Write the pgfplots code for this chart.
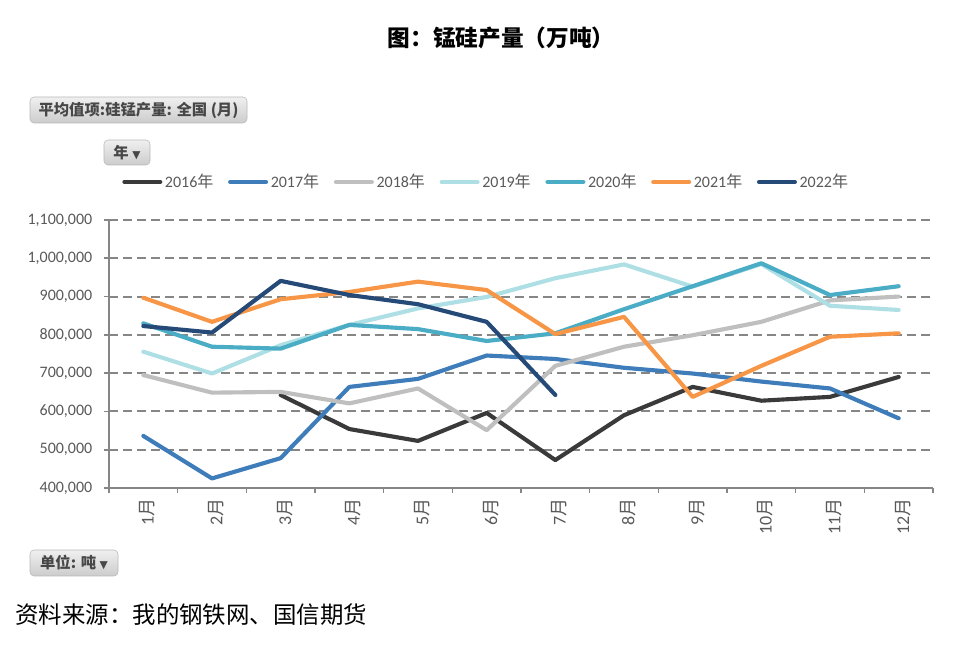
\documentclass[border=0pt]{standalone}
\usepackage{pgfplots}
\pgfplotsset{compat=1.18}
\usepackage{fontspec}
\setmainfont{Carlito}
\newfontfamily\cjk{Noto Sans CJK SC}
\newfontfamily\dejavu{DejaVu Sans}
\definecolor{c16}{HTML}{3A3A3A}
\definecolor{c17}{HTML}{3E7DB9}
\definecolor{c18}{HTML}{BFBFBF}
\definecolor{c19}{HTML}{AEDFE5}
\definecolor{c20}{HTML}{4BACC6}
\definecolor{c21}{HTML}{F79646}
\definecolor{c22}{HTML}{264A78}
\definecolor{axgray}{HTML}{868686}
\definecolor{txtgray}{HTML}{595959}
\begin{document}
\begin{tikzpicture}[x=0.75pt,y=0.75pt]
\path[use as bounding box] (0,0) rectangle (976,646);
\begin{axis}[
  at={(81.75pt,118.5pt)}, anchor=south west,
  scale only axis, width=618pt, height=201pt,
  xmin=0.5, xmax=12.5, ymin=400000, ymax=1100000,
  axis lines=left, axis line style={-, draw=axgray, line width=1.3pt},
  tick align=outside, major tick length=4pt,
  tick style={draw=axgray, line width=1.2pt},
  xtick={0.5,1.5,...,12.5}, x tick label as interval,
  xticklabels={1{\cjk 月},2{\cjk 月},3{\cjk 月},4{\cjk 月},5{\cjk 月},6{\cjk 月},7{\cjk 月},8{\cjk 月},9{\cjk 月},10{\cjk 月},11{\cjk 月},12{\cjk 月}},
  xticklabel style={rotate=90, anchor=east, yshift=-3pt, font=\fontsize{13.5}{15}\selectfont, text=txtgray},
  ytick={400000,500000,...,1100000},
  scaled y ticks=false,
  yticklabel={\pgfmathprintnumber[fixed, precision=0, 1000 sep={,}, assume math mode=true]{\tick}},
  yticklabel style={font=\fontsize{12}{14}\selectfont, text=txtgray, xshift=-5pt},
  ymajorgrids, major grid style={draw=axgray, line width=1.4pt, dash pattern=on 7pt off 3.5pt},
  legend style={at={(0.011,1.142)}, anchor=west, draw=none, fill=none,
    font=\fontsize{12}{14}\selectfont, text=txtgray,
    /tikz/every even column/.append style={column sep=9pt}},
  legend columns=7,
  legend image code/.code={\draw[#1, line width=3pt, line cap=round] (0pt,0pt) -- (27pt,0pt);},
  every axis plot/.append style={line width=3.1pt, line join=round, line cap=round, mark=none},
]
\addplot[c16] coordinates {(3,643000)(4,554000)(5,523000)(6,596000)(7,473000)(8,590000)(9,664000)(10,628000)(11,638000)(12,690000)};
\addlegendentry{2016{\cjk 年}}
\addplot[c17] coordinates {(1,536000)(2,425000)(3,478000)(4,664000)(5,685000)(6,746000)(7,737000)(8,714000)(9,699000)(10,678000)(11,660000)(12,582000)};
\addlegendentry{2017{\cjk 年}}
\addplot[c18] coordinates {(1,695000)(2,649000)(3,651000)(4,621000)(5,660000)(6,551000)(7,719000)(8,769000)(9,799000)(10,834000)(11,890000)(12,900000)};
\addlegendentry{2018{\cjk 年}}
\addplot[c19] coordinates {(1,756000)(2,699000)(3,773000)(4,826000)(5,869000)(6,899000)(7,948000)(8,984000)(9,926000)(10,985000)(11,876000)(12,865000)};
\addlegendentry{2019{\cjk 年}}
\addplot[c20] coordinates {(1,830000)(2,769000)(3,764000)(4,826000)(5,815000)(6,784000)(7,804000)(8,867000)(9,927000)(10,987000)(11,904000)(12,927000)};
\addlegendentry{2020{\cjk 年}}
\addplot[c21] coordinates {(1,897000)(2,834000)(3,893000)(4,912000)(5,939000)(6,917000)(7,802000)(8,847000)(9,638000)(10,719000)(11,795000)(12,804000)};
\addlegendentry{2021{\cjk 年}}
\addplot[c22] coordinates {(1,823000)(2,806000)(3,941000)(4,904000)(5,880000)(6,834000)(7,643000)};
\addlegendentry{2022{\cjk 年}}
\end{axis}
% title
\node[font=\cjk\bfseries\fontsize{17}{19}\selectfont] at (501,608) {图：锰硅产量（万吨）};
% buttons
\node[draw=gray!55, top color=gray!12, bottom color=gray!40, rounded corners=3pt,
  minimum width=162.75pt, minimum height=19.5pt, inner sep=0pt,
  font=\cjk\bfseries\fontsize{11.5}{12}\selectfont, text=black!72] at (138.5,536) {平均值项:硅锰产量: 全国 (月)};
\node[draw=gray!55, top color=gray!12, bottom color=gray!40, rounded corners=3pt,
  minimum width=34.5pt, minimum height=18.75pt, inner sep=0pt,
  font=\cjk\bfseries\fontsize{11.5}{12}\selectfont, text=black!72] at (127,493.5) {年\ {\dejavu\fontsize{8}{9}\selectfont ▼}};
\node[draw=gray!55, top color=gray!12, bottom color=gray!40, rounded corners=3pt,
  minimum width=66pt, minimum height=19.5pt, inner sep=0pt,
  font=\cjk\bfseries\fontsize{11.5}{12}\selectfont, text=black!72] at (74,83) {单位: 吨\ {\dejavu\fontsize{8}{9}\selectfont ▼}};
% source
\node[anchor=west, inner sep=0pt, font=\cjk\fontsize{17.6}{19}\selectfont] at (15,31) {资料来源：我的钢铁网、国信期货};
\end{tikzpicture}
\end{document}
